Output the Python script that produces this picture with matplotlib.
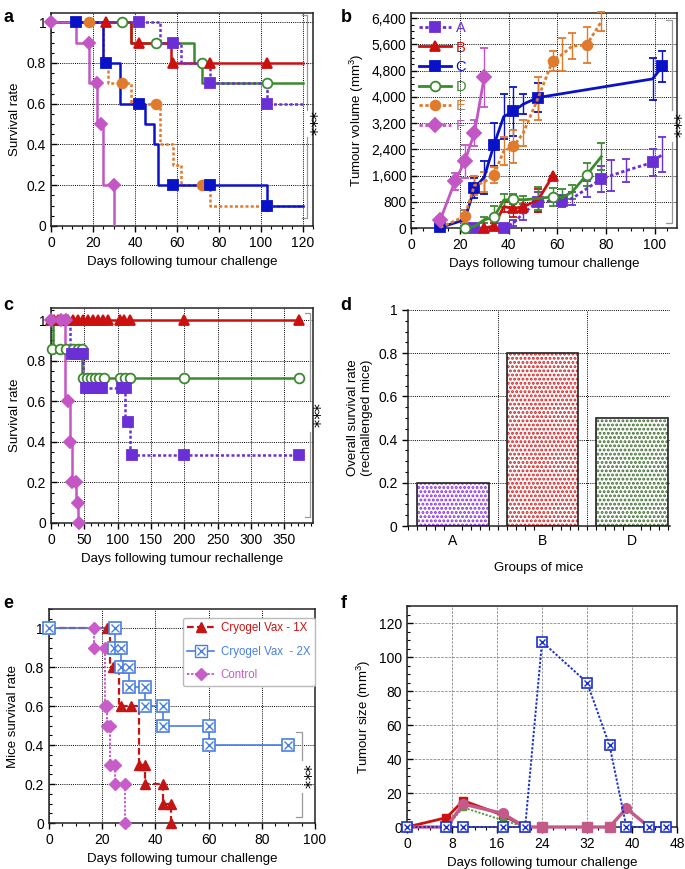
import matplotlib.pyplot as plt
from matplotlib.lines import Line2D
from matplotlib.ticker import MultipleLocator, FuncFormatter

plt.rcParams['font.family'] = ['Liberation Sans', 'DejaVu Sans']
plt.rcParams['mathtext.fontset'] = 'custom'
plt.rcParams['mathtext.rm'] = 'Liberation Sans'
plt.rcParams['mathtext.default'] = 'regular'
plt.rcParams['hatch.linewidth'] = 1.4

PURPLE = '#6B2FD6'
RED = '#CC1010'
BLUE = '#0A12C8'
GREEN = '#3C8A2E'
ORANGE = '#E07A2C'
MAGENTA = '#C455C4'

# ---- a: survival after tumour challenge (step curves + marker points)
a_A_t, a_A_s = [0, 52, 62, 76, 103, 120], [1, 0.9, 0.8, 0.7, 0.6, 0.6]
a_A_mt, a_A_ms = [42, 58, 76, 103], [1, 0.9, 0.7, 0.6]
a_B_t, a_B_s = [0, 38, 57, 120], [1, 0.9, 0.8, 0.8]
a_B_mt, a_B_ms = [26, 42, 58, 76, 103], [1, 0.9, 0.8, 0.8, 0.8]
a_C_t, a_C_s = [0, 25, 33, 45, 49, 51, 103, 120], [1, 0.8, 0.6, 0.5, 0.4, 0.2, 0.1, 0.1]
a_C_mt, a_C_ms = [12, 26, 42, 58, 76, 103], [1, 0.8, 0.6, 0.2, 0.2, 0.1]
a_D_t, a_D_s = [0, 38, 68, 72, 120], [1, 0.9, 0.8, 0.7, 0.7]
a_D_mt, a_D_ms = [34, 50, 72, 103], [1, 0.9, 0.8, 0.7]
a_E_t, a_E_s = [0, 25, 27, 38, 52, 58, 62, 76, 120], [1, 0.8, 0.7, 0.6, 0.4, 0.3, 0.2, 0.1, 0.1]
a_E_mt, a_E_ms = [18, 34, 50, 72, 103], [1, 0.7, 0.6, 0.2, 0.1]
a_F_t, a_F_s = [0, 12, 18, 22, 25, 30], [1, 0.9, 0.7, 0.5, 0.2, 0]
a_F_mt, a_F_ms = [0, 18, 22, 24, 30], [1, 0.9, 0.7, 0.5, 0.2]

# ---- b: tumour volume
b_A_days = [26, 38, 42, 46, 52, 62, 66, 72, 78, 82, 88, 99, 103]
b_A_vol = [0, 0, 150, 450, 800, 830, 900, 1200, 1500, 1600, 1750, 2000, 2250]
b_A_err = [0, 0, 100, 200, 300, 180, 200, 250, 400, 480, 360, 420, 530]
b_A_mark = [0, 1, 4, 5, 8, 11]
b_B_days = [30, 34, 38, 42, 46, 52, 58]
b_B_vol = [0, 60, 650, 600, 650, 850, 1580]
b_B_err = [0, 80, 150, 250, 200, 350, 0]
b_B_mark = [0, 1, 3, 4, 6]
b_C_days = [12, 22, 26, 30, 34, 38, 42, 46, 52, 99, 103]
b_C_vol = [20, 250, 1220, 1550, 2540, 3400, 3560, 3780, 3980, 4550, 4930]
b_C_err = [0, 300, 300, 500, 650, 680, 750, 300, 430, 650, 480]
b_C_mark = [0, 2, 4, 6, 8, 10]
b_D_days = [22, 26, 30, 34, 38, 42, 46, 52, 58, 62, 66, 72, 78]
b_D_vol = [0, 50, 250, 330, 850, 880, 860, 900, 955, 930, 1100, 1620, 2180]
b_D_err = [0, 60, 100, 350, 200, 150, 120, 350, 280, 250, 200, 350, 420]
b_D_mark = [0, 3, 5, 8, 11]
b_E_days = [12, 22, 26, 30, 34, 38, 42, 46, 52, 58, 62, 66, 72, 78]
b_E_vol = [20, 355, 1300, 1400, 1625, 2350, 2490, 2900, 3950, 5100, 5300, 5550, 5590, 6300]
b_E_err = [0, 200, 300, 300, 250, 430, 500, 400, 650, 300, 500, 400, 550, 300]
b_E_mark = [1, 4, 6, 9, 12]
b_F_days = [12, 18, 22, 26, 30]
b_F_vol = [250, 1420, 2030, 2900, 4600]
b_F_err = [0, 250, 500, 400, 900]

# ---- c: survival after rechallenge
c_A_t, c_A_s = [0, 29, 48, 111, 118, 372], [1, 0.833, 0.667, 0.5, 0.333, 0.333]
c_A_mt = [31, 37, 43, 48, 52, 57, 62, 67, 72, 77, 106, 112, 116, 121, 200, 372]
c_A_ms = [0.833] * 4 + [0.667] * 8 + [0.5, 0.333, 0.333, 0.333]
c_B_t, c_B_s = [0, 372], [1, 1]
c_B_mt = [0, 5, 10, 15, 20, 25, 33, 40, 48, 55, 63, 70, 78, 86, 103, 110, 118, 200, 372]
c_D_t, c_D_s = [0, 3, 47, 372], [1, 0.857, 0.714, 0.714]
c_D_mt = [2, 13, 23, 33, 41, 46, 48, 54, 60, 66, 72, 79, 104, 111, 118, 200, 372]
c_D_ms = [0.857] * 6 + [0.714] * 11
c_F_t, c_F_s = [0, 21, 28, 31, 37, 41], [1, 0.6, 0.4, 0.2, 0.1, 0]
c_F_mt, c_F_ms = [0, 15, 22, 26, 29, 32, 37, 40, 42], [1, 1, 1, 0.6, 0.4, 0.2, 0.2, 0.1, 0]

# ---- d: overall survival of rechallenged mice
d_groups = ['A', 'B', 'D']
d_rate = [0.2, 0.8, 0.5]
d_colors = ['#8A2BE2', '#D42020', '#3F6F2F']

# ---- e: cryogel vaccine survival
e_1x_t, e_1x_s = [0, 23, 26.5, 34, 36, 43, 46], [1, 0.8, 0.6, 0.3, 0.2, 0.1, 0]
e_1x_mt = [22, 24, 27, 31, 34, 36, 36, 43, 43, 46, 46]
e_1x_ms = [1, 0.8, 0.6, 0.6, 0.3, 0.3, 0.2, 0.2, 0.1, 0.1, 0]
e_2x_t, e_2x_s = [0, 25, 27, 30, 36, 43, 60, 90], [1, 0.9, 0.8, 0.7, 0.6, 0.5, 0.4, 0.4]
e_2x_mt = [0, 25, 24.5, 27, 27, 30, 30, 36, 36, 43, 43, 60, 60, 90]
e_2x_ms = [1, 1, 0.9, 0.9, 0.8, 0.8, 0.7, 0.7, 0.6, 0.6, 0.5, 0.5, 0.4, 0.4]
e_ct_t, e_ct_s = [0, 17, 21, 22, 23, 25, 28.6], [1, 0.9, 0.6, 0.5, 0.3, 0.2, 0]
e_ct_mt = [0, 17, 17, 21, 21, 22, 22, 23, 23, 25, 25, 28.6, 28.6]
e_ct_ms = [1, 1, 0.9, 0.9, 0.6, 0.6, 0.5, 0.5, 0.3, 0.3, 0.2, 0.2, 0]

# ---- f: tumour size
f_blue_days = [0, 7, 10, 17, 21, 24, 32, 36, 39, 43, 46]
f_blue_vals = [0, 0, 0, 0, 0, 109, 85, 48, 0, 0, 0]
f_red_days = [0, 7, 10, 17, 21]
f_red_vals = [0, 5.5, 15.5, 7, 0]
f_pink_days = [0, 7, 10, 17, 21, 24, 32, 36, 39, 43]
f_pink_vals = [0, 0, 13.5, 8, 0, 0, 0, 0, 11, 0]
f_pink_circ = [2, 3, 8]
f_pink_sq = [5, 6, 7]
f_green_days = [7, 10, 17, 21]
f_green_vals = [0, 11.5, 4, 0]

DOT = (0, (1.2, 0.9))
GRID = dict(color='black', linestyle=(0, (1, 1.2)), linewidth=0.7)

fig = plt.figure(figsize=(6.85, 8.69), dpi=100)


def style_axes(ax, xmaj, xmin_, ymaj, ymin_, yfmt=None, grid=GRID):
    ax.xaxis.set_major_locator(MultipleLocator(xmaj))
    ax.xaxis.set_minor_locator(MultipleLocator(xmin_))
    ax.yaxis.set_major_locator(MultipleLocator(ymaj))
    ax.yaxis.set_minor_locator(MultipleLocator(ymin_))
    ax.yaxis.set_major_formatter(FuncFormatter(yfmt or (lambda v, p: f'{v:g}')))
    ax.tick_params(axis='y', which='both', direction='in', labelsize=10)
    ax.tick_params(axis='x', which='both', direction='out', labelsize=10)
    ax.tick_params(which='major', length=4, width=1)
    ax.tick_params(which='minor', length=2.5, width=0.8)
    ax.grid(True, which='major', **grid)
    ax.set_axisbelow(True)
    for s in ax.spines.values():
        s.set_linewidth(1.1)
        s.set_color('#222222')


def km(ax, t, s, mt, ms, color, ls='-', marker='s', mfc=None, size=7, lw=1.8, z=3):
    ax.step(t, s, where='post', color=color, ls=ls, lw=lw, zorder=z)
    ax.plot(mt, ms, ls='none', marker=marker, color=color, mec=color,
            mfc=mfc or color, markersize=size, mew=1.3, clip_on=False, zorder=z + 0.5)


def bracket(ax, x, y0, y1, g0, g1):
    kw = dict(transform=ax.transAxes, color='#999999', lw=0.9, clip_on=False)
    ax.plot([x - 0.02, x, x], [y1, y1, g1], **kw)
    ax.plot([x, x, x - 0.02], [g0, y0, y0], **kw)
    ax.text(x + 0.004, (g0 + g1) / 2, '***', rotation=270, transform=ax.transAxes,
            ha='center', va='center', fontsize=12, family='DejaVu Sans')


# ================= a
ax = fig.add_axes([0.0745, 0.740, 0.3825, 0.245])
km(ax, a_D_t, a_D_s, a_D_mt, a_D_ms, GREEN, '-', 'o', mfc='white')
km(ax, a_B_t, a_B_s, a_B_mt, a_B_ms, RED, '-', '^')
km(ax, a_E_t, a_E_s, a_E_mt, a_E_ms, ORANGE, DOT, 'o')
km(ax, a_C_t, a_C_s, a_C_mt, a_C_ms, BLUE, '-', 's')
km(ax, a_A_t, a_A_s, a_A_mt, a_A_ms, PURPLE, DOT, 's')
km(ax, a_F_t, a_F_s, a_F_mt, a_F_ms, MAGENTA, '-', 'D', size=6.5)
ax.set_xlim(0, 125)
ax.set_ylim(0, 1.045)
style_axes(ax, 20, 5, 0.2, 0.05)
ax.set_xlabel('Days following tumour challenge', fontsize=9.5)
ax.set_ylabel('Survival rate', fontsize=9.5)
bracket(ax, 0.977, 0.037, 0.99, 0.418, 0.545)

# ================= b
ax = fig.add_axes([0.600, 0.7376, 0.3883, 0.2474])
series_b = [
    ('A', b_A_days, b_A_vol, b_A_err, b_A_mark, PURPLE, DOT, 's', PURPLE),
    ('B', b_B_days, b_B_vol, b_B_err, b_B_mark, RED, '-', '^', RED),
    ('C', b_C_days, b_C_vol, b_C_err, b_C_mark, BLUE, '-', 's', BLUE),
    ('D', b_D_days, b_D_vol, b_D_err, b_D_mark, GREEN, '-', 'o', 'white'),
    ('E', b_E_days, b_E_vol, b_E_err, b_E_mark, ORANGE, DOT, 'o', ORANGE),
    ('F', b_F_days, b_F_vol, b_F_err, list(range(len(b_F_days))), MAGENTA, '-', 'D', MAGENTA),
]
for name, dd, vv, ee, mk, col, ls, m, fc in series_b:
    ax.errorbar(dd, vv, yerr=ee, color=col, ls=ls, lw=2, marker=m, markevery=mk,
                mfc=fc, mec=col, mew=1.3, markersize=7, elinewidth=1, capsize=3,
                capthick=1, clip_on=False, zorder=3)
ax.set_xlim(0, 109)
ax.set_ylim(0, 6560)
style_axes(ax, 20, 5, 800, 200, yfmt=lambda v, p: f'{int(v):,}')
ax.set_xlabel('Days following tumour challenge', fontsize=9.5)
ax.set_ylabel('Tumour volume (mm$^3$)', fontsize=9.5)
handles = [Line2D([], [], color=col, ls=ls if name != 'F' else DOT, lw=2, marker=m,
                  mfc=fc, mec=col, mew=1.3, markersize=7)
           for name, dd, vv, ee, mk, col, ls, m, fc in series_b]
leg = ax.legend(handles, [s[0] for s in series_b], loc='upper left', frameon=False,
                fontsize=10.5, handlelength=2.2, labelspacing=0.38, handletextpad=0.3,
                borderaxespad=0.15)
leg.set_zorder(10)
for txt, s in zip(leg.get_texts(), series_b):
    txt.set_color(s[5])
bracket(ax, 0.98, 0.023, 0.967, 0.401, 0.549)

# ================= c
ax = fig.add_axes([0.0745, 0.3982, 0.3825, 0.2474])
km(ax, c_B_t, c_B_s, c_B_mt, [1] * len(c_B_mt), RED, '-', '^')
km(ax, c_D_t, c_D_s, c_D_mt, c_D_ms, GREEN, '-', 'o', mfc='white')
km(ax, c_A_t, c_A_s, c_A_mt, c_A_ms, PURPLE, DOT, 's')
km(ax, c_F_t, c_F_s, c_F_mt, c_F_ms, MAGENTA, '-', 'D', size=6.5)
ax.set_xlim(0, 393)
ax.set_ylim(0, 1.06)
style_axes(ax, 50, 10, 0.2, 0.05)
ax.set_xlabel('Days following tumour rechallenge', fontsize=9.5)
ax.set_ylabel('Survival rate', fontsize=9.5)
bracket(ax, 0.99, 0.03, 0.977, 0.425, 0.572)

# ================= d
ax = fig.add_axes([0.5956, 0.3947, 0.3825, 0.2486])
xs = list(range(len(d_groups)))
ax.bar(xs, d_rate, width=0.8, color='white', edgecolor=d_colors, hatch='....',
       linewidth=0, zorder=2)
ax.bar(xs, d_rate, width=0.8, fill=False, edgecolor='#222222', linewidth=1.2, zorder=3)
ax.set_xlim(-0.5, 2.42)
ax.set_ylim(0, 1)
ax.set_xticks(xs)
ax.set_xticklabels(d_groups)
ax.xaxis.set_minor_locator(MultipleLocator(0.1))
ax.yaxis.set_major_locator(MultipleLocator(0.2))
ax.yaxis.set_minor_locator(MultipleLocator(0.05))
ax.yaxis.set_major_formatter(FuncFormatter(lambda v, p: f'{v:g}'))
ax.tick_params(axis='x', which='major', length=0, labelsize=10, pad=6)
ax.tick_params(axis='x', which='minor', length=3, width=0.8)
ax.tick_params(axis='y', which='major', length=4, width=1, labelsize=10)
ax.tick_params(axis='y', which='minor', length=2.5, width=0.8)
ax.grid(True, axis='y', which='major', **GRID)
for xv in [0.5, 1.5]:
    ax.axvline(xv, zorder=0, **GRID)
ax.spines['top'].set_visible(False)
ax.spines['right'].set_visible(False)
for s in ['left', 'bottom']:
    ax.spines[s].set_linewidth(1.1)
    ax.spines[s].set_color('#222222')
ax.set_xlabel('Groups of mice', fontsize=9.5, labelpad=10)
ax.set_ylabel('Overall survival rate\n(rechallenged mice)', fontsize=9.5)

# ================= e
E_RED, E_BLUE, E_MAG = '#C41414', '#4A7FE0', '#C85CC8'
ax = fig.add_axes([0.0715, 0.0529, 0.3883, 0.2463])
ax.step(e_ct_t, e_ct_s, where='post', color=E_MAG, ls=DOT, lw=1.4, zorder=3)
ax.plot(e_ct_mt, e_ct_ms, ls='none', marker='D', color=E_MAG, markersize=6,
        clip_on=False, zorder=4)
ax.step(e_1x_t, e_1x_s, where='post', color=E_RED, ls=(0, (3, 1.5)), lw=1.6, zorder=3)
ax.plot(e_1x_mt, e_1x_ms, ls='none', marker='^', color=E_RED, markersize=7,
        clip_on=False, zorder=4)
ax.step(e_2x_t, e_2x_s, where='post', color=E_BLUE, ls='-', lw=1.2, zorder=3)
ax.plot(e_2x_mt, e_2x_ms, ls='none', marker='s', color=E_BLUE, mfc='white',
        mew=1.2, markersize=8, clip_on=False, zorder=5)
ax.plot(e_2x_mt, e_2x_ms, ls='none', marker='x', color=E_BLUE, mew=1,
        markersize=5.5, clip_on=False, zorder=6)
ax.set_xlim(0, 100)
ax.set_ylim(0, 1.1)
style_axes(ax, 20, 5, 0.2, 0.05)
ax.set_xlabel('Days following tumour challenge', fontsize=9.5)
ax.set_ylabel('Mice survival rate', fontsize=9.5)
h1 = Line2D([], [], color=E_RED, ls=(0, (3, 1.5)), lw=1.6, marker='^', markersize=7)
h2 = (Line2D([], [], color=E_BLUE, lw=1.2, marker='s', mfc='white', markersize=8),
      Line2D([], [], ls='none', color=E_BLUE, marker='x', markersize=5.5))
h3 = Line2D([], [], color=E_MAG, ls=DOT, lw=1.4, marker='D', markersize=6)
leg = ax.legend([h1, h2, h3], ['Cryogel Vax - 1X', 'Cryogel Vax  - 2X', 'Control'],
                loc='upper right', bbox_to_anchor=(1.0, 0.96), fontsize=8.3,
                handlelength=2.3, labelspacing=1.0, borderaxespad=0.0, handletextpad=0.6,
                framealpha=1, edgecolor='#bbbbbb', fancybox=True)
leg.set_zorder(10)
for txt, c in zip(leg.get_texts(), [E_RED, E_BLUE, E_MAG]):
    txt.set_color(c)
bracket(ax, 0.95, 0.03, 0.427, 0.14, 0.294)

# ================= f
F_RED, F_PINK, F_GREEN, F_BLUE = '#CC1111', '#C45A8A', '#4E9A3A', '#1A2FD0'
ax = fig.add_axes([0.5942, 0.0483, 0.3942, 0.2543])
ax.plot(f_red_days, f_red_vals, color=F_RED, lw=2, marker='s', markersize=6,
        clip_on=False, zorder=3)
ax.plot(f_green_days, f_green_vals, color=F_GREEN, ls=DOT, lw=1.3, marker='s',
        markevery=[1, 2], markersize=5, clip_on=False, zorder=3)
ax.plot(f_pink_days, f_pink_vals, color=F_PINK, lw=2.4, marker='o', markevery=f_pink_circ,
        markersize=7, clip_on=False, zorder=4)
ax.plot([f_pink_days[i] for i in f_pink_sq], [f_pink_vals[i] for i in f_pink_sq],
        ls='none', marker='s', color=F_PINK, markersize=7, clip_on=False, zorder=4)
ax.plot(f_blue_days, f_blue_vals, color=F_BLUE, ls=DOT, lw=1.4, marker='s', mfc='white',
        mew=1.2, markersize=7, clip_on=False, zorder=5)
ax.plot(f_blue_days, f_blue_vals, ls='none', marker='x', color=F_BLUE, mew=1,
        markersize=5, clip_on=False, zorder=6)
ax.set_xlim(0, 48)
ax.set_ylim(0, 130)
style_axes(ax, 8, 2, 20, 5, grid=dict(color='#888888', linestyle=(0, (3, 1.5)), linewidth=0.6))
ax.set_xlabel('Days following tumour challenge', fontsize=9.5)
ax.set_ylabel('Tumour size (mm$^3$)', fontsize=9.5)

for lab, x, y in [('a', 0.005, 0.99), ('b', 0.497, 0.99), ('c', 0.005, 0.658),
                  ('d', 0.497, 0.658), ('e', 0.005, 0.315), ('f', 0.497, 0.315)]:
    fig.text(x, y, lab, fontsize=13, fontweight='bold', va='top', ha='left')

fig.savefig('out.png', dpi=100)
